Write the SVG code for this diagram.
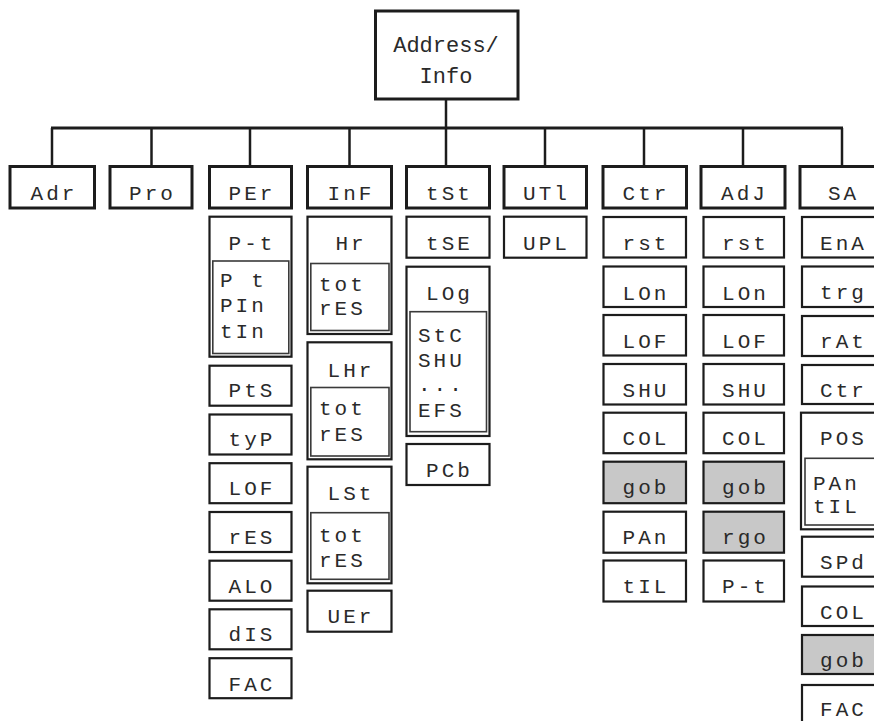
<svg xmlns="http://www.w3.org/2000/svg" width="874" height="721" viewBox="0 0 874 721">
<style>
.b{fill:#fff;stroke:#1c1c1c;stroke-width:2.2}
.tb{fill:#fff;stroke:#1c1c1c;stroke-width:3}
.g{fill:#c8c8c8}
.in{fill:none;stroke:#3a3a3a;stroke-width:1.6}
.t{font-family:"Liberation Mono","Courier New",monospace;font-size:21px;letter-spacing:3px;fill:#2a2a2a;text-anchor:middle}
.l{font-family:"Liberation Mono","Courier New",monospace;font-size:21px;letter-spacing:3px;fill:#2a2a2a}
.r{font-family:"Liberation Mono","Courier New",monospace;font-size:22px;fill:#2a2a2a;text-anchor:middle}
.c{stroke:#1c1c1c;fill:none}
</style>
<rect width="874" height="721" fill="#fff"/>
<g id="connectors" class="c">
<line x1="446" y1="99" x2="446" y2="128" stroke-width="2.5"/>
<line x1="51" y1="128" x2="843" y2="128" stroke-width="3"/>
<line x1="52" y1="128" x2="52" y2="167" stroke-width="2.5"/>
<line x1="151.5" y1="128" x2="151.5" y2="167" stroke-width="2.5"/>
<line x1="250" y1="128" x2="250" y2="167" stroke-width="2.5"/>
<line x1="349.5" y1="128" x2="349.5" y2="167" stroke-width="2.5"/>
<line x1="446" y1="128" x2="446" y2="167" stroke-width="2.5"/>
<line x1="545" y1="128" x2="545" y2="167" stroke-width="2.5"/>
<line x1="644" y1="128" x2="644" y2="167" stroke-width="2.5"/>
<line x1="743" y1="128" x2="743" y2="167" stroke-width="2.5"/>
<line x1="842" y1="128" x2="842" y2="167" stroke-width="2.5"/>
</g>
<g id="root"><rect class="tb" x="375.5" y="11" width="142.5" height="88"/><text class="r" x="446" y="52">Address/</text><text class="r" x="446" y="83">Info</text></g>
<g id="adr"><rect class="tb" x="10" y="166.5" width="84.5" height="41.5"/><text class="t" x="54" y="200">Adr</text></g>
<g id="pro"><rect class="tb" x="110" y="166.5" width="82" height="41.5"/><text class="t" x="152.5" y="200">Pro</text></g>
<g id="per"><rect class="tb" x="209.5" y="166.5" width="82" height="41.5"/><text class="t" x="252" y="200">PEr</text></g>
<g id="inf"><rect class="tb" x="307.5" y="166.5" width="84" height="41.5"/><text class="t" x="351" y="200">InF</text></g>
<g id="tst"><rect class="tb" x="406.5" y="166.5" width="83" height="41.5"/><text class="t" x="449.5" y="200">tSt</text></g>
<g id="utl"><rect class="tb" x="504" y="166.5" width="82.5" height="41.5"/><text class="t" x="546.5" y="200">UTl</text></g>
<g id="ctr"><rect class="tb" x="603" y="166.5" width="83.5" height="41.5"/><text class="t" x="646" y="200">Ctr</text></g>
<g id="adj"><rect class="tb" x="701" y="166.5" width="84" height="41.5"/><text class="t" x="744.5" y="200">AdJ</text></g>
<g id="sa"><rect class="tb" x="800" y="166.5" width="90" height="41.5"/><text class="t" x="843.5" y="200">SA</text></g>

<g id="per-pt"><rect class="b" x="209.5" y="216.7" width="82" height="140"/><text class="t" x="252" y="249.5">P-t</text><rect class="in" x="212.8" y="261" width="76" height="92.5"/><text class="l" x="220" y="286.5">P t</text><text class="l" x="220" y="311.5">PIn</text><text class="l" x="220" y="338">tIn</text></g>
<g id="per-pts"><rect class="b" x="209.5" y="365.7" width="82" height="40"/><text class="t" x="252" y="397">PtS</text></g>
<g id="per-typ"><rect class="b" x="209.5" y="414.5" width="82" height="40"/><text class="t" x="252" y="446">tyP</text></g>
<g id="per-lof"><rect class="b" x="209.5" y="463.2" width="82" height="40"/><text class="t" x="252" y="495">LOF</text></g>
<g id="per-res"><rect class="b" x="209.5" y="512" width="82" height="40"/><text class="t" x="252" y="544">rES</text></g>
<g id="per-alo"><rect class="b" x="209.5" y="560.7" width="82" height="40"/><text class="t" x="252" y="592.5">ALO</text></g>
<g id="per-dis"><rect class="b" x="209.5" y="609.3" width="82" height="40"/><text class="t" x="252" y="641">dIS</text></g>
<g id="per-fac"><rect class="b" x="209.5" y="658.2" width="82" height="40"/><text class="t" x="252" y="690.5">FAC</text></g>

<g id="inf-hr"><rect class="b" x="307.5" y="216.7" width="84" height="117.3"/><text class="t" x="351" y="249.5">Hr</text><rect class="in" x="310.8" y="263.5" width="78.2" height="67"/><text class="l" x="319" y="290.5">tot</text><text class="l" x="319" y="315">rES</text></g>
<g id="inf-lhr"><rect class="b" x="307.5" y="342.3" width="84" height="117"/><text class="t" x="351" y="376.5">LHr</text><rect class="in" x="310.8" y="387.5" width="78.2" height="68.5"/><text class="l" x="319" y="414.5">tot</text><text class="l" x="319" y="441">rES</text></g>
<g id="inf-lst"><rect class="b" x="307.5" y="466.7" width="84" height="116.6"/><text class="t" x="351" y="499.5">LSt</text><rect class="in" x="310.8" y="512.7" width="78.2" height="66.6"/><text class="l" x="319" y="541.5">tot</text><text class="l" x="319" y="566.5">rES</text></g>
<g id="inf-uer"><rect class="b" x="307.5" y="590.7" width="84" height="41"/><text class="t" x="351" y="623">UEr</text></g>

<g id="tst-tse"><rect class="b" x="406.5" y="216.7" width="83" height="41"/><text class="t" x="449.5" y="249.5">tSE</text></g>
<g id="tst-log"><rect class="b" x="406.5" y="266.7" width="83" height="169.3"/><text class="t" x="449.5" y="300">LOg</text><rect class="in" x="410" y="311.7" width="76.5" height="120"/><text class="l" x="418" y="341.5">StC</text><text class="l" x="418" y="366.5">SHU</text><text class="l" x="418" y="391">...</text><text class="l" x="418" y="416.5">EFS</text></g>
<g id="tst-pcb"><rect class="b" x="406.5" y="444" width="83" height="41"/><text class="t" x="449.5" y="476.5">PCb</text></g>

<g id="utl-upl"><rect class="b" x="504" y="216.7" width="82.5" height="41"/><text class="t" x="546.5" y="249.5">UPL</text></g>

<g id="ctr-rst"><rect class="b" x="603.5" y="217" width="82.5" height="40.5"/><text class="t" x="646" y="249.5">rst</text></g>
<g id="ctr-lon"><rect class="b" x="603.5" y="266.5" width="82.5" height="40.5"/><text class="t" x="646" y="299.5">LOn</text></g>
<g id="ctr-lof"><rect class="b" x="603.5" y="315" width="82.5" height="40.5"/><text class="t" x="646" y="348">LOF</text></g>
<g id="ctr-shu"><rect class="b" x="603.5" y="364" width="82.5" height="40.5"/><text class="t" x="646" y="396.5">SHU</text></g>
<g id="ctr-col"><rect class="b" x="603.5" y="412.7" width="82.5" height="40.5"/><text class="t" x="646" y="445">COL</text></g>
<g id="ctr-gob"><rect class="b g" x="603.5" y="461.7" width="82.5" height="41.5"/><text class="t" x="646" y="494">gob</text></g>
<g id="ctr-pan"><rect class="b" x="603.5" y="511.7" width="82.5" height="41"/><text class="t" x="646" y="544">PAn</text></g>
<g id="ctr-til"><rect class="b" x="603.5" y="560.5" width="82.5" height="41"/><text class="t" x="646" y="593">tIL</text></g>

<g id="adj-rst"><rect class="b" x="703.5" y="217" width="80.5" height="40.5"/><text class="t" x="745.5" y="249.5">rst</text></g>
<g id="adj-lon"><rect class="b" x="703.5" y="266.5" width="80.5" height="40.5"/><text class="t" x="745.5" y="299.5">LOn</text></g>
<g id="adj-lof"><rect class="b" x="703.5" y="315" width="80.5" height="40.5"/><text class="t" x="745.5" y="348">LOF</text></g>
<g id="adj-shu"><rect class="b" x="703.5" y="364" width="80.5" height="40.5"/><text class="t" x="745.5" y="396.5">SHU</text></g>
<g id="adj-col"><rect class="b" x="703.5" y="412.7" width="80.5" height="40.5"/><text class="t" x="745.5" y="445">COL</text></g>
<g id="adj-gob"><rect class="b g" x="703.5" y="461.7" width="80.5" height="41.5"/><text class="t" x="745.5" y="494">gob</text></g>
<g id="adj-rgo"><rect class="b g" x="703.5" y="511.7" width="80.5" height="41"/><text class="t" x="745.5" y="544">rgo</text></g>
<g id="adj-pt"><rect class="b" x="703.5" y="560.5" width="80.5" height="41"/><text class="t" x="745.5" y="593">P-t</text></g>

<g id="sa-ena"><rect class="b" x="802" y="217" width="90" height="40.5"/><text class="t" x="843.5" y="249.5">EnA</text></g>
<g id="sa-trg"><rect class="b" x="802" y="266.5" width="90" height="40.5"/><text class="t" x="843.5" y="299">trg</text></g>
<g id="sa-rat"><rect class="b" x="802" y="316" width="90" height="40"/><text class="t" x="843.5" y="348">rAt</text></g>
<g id="sa-ctr"><rect class="b" x="802" y="365" width="90" height="39"/><text class="t" x="843.5" y="397">Ctr</text></g>
<g id="sa-pos"><rect class="b" x="801" y="412.7" width="91" height="116.6"/><text class="t" x="843.5" y="445">POS</text><rect class="in" x="805" y="458.3" width="90" height="66.7"/><text class="l" x="813" y="490">PAn</text><text class="l" x="813" y="513">tIL</text></g>
<g id="sa-spd"><rect class="b" x="802" y="536.7" width="90" height="40"/><text class="t" x="843.5" y="569">SPd</text></g>
<g id="sa-col"><rect class="b" x="802" y="586.5" width="90" height="39.5"/><text class="t" x="843.5" y="618.5">COL</text></g>
<g id="sa-gob"><rect class="b g" x="802" y="635" width="90" height="39"/><text class="t" x="843.5" y="667">gob</text></g>
<g id="sa-fac"><rect class="b" x="802" y="685" width="90" height="45"/><text class="t" x="843.5" y="715.5">FAC</text></g>
</svg>
